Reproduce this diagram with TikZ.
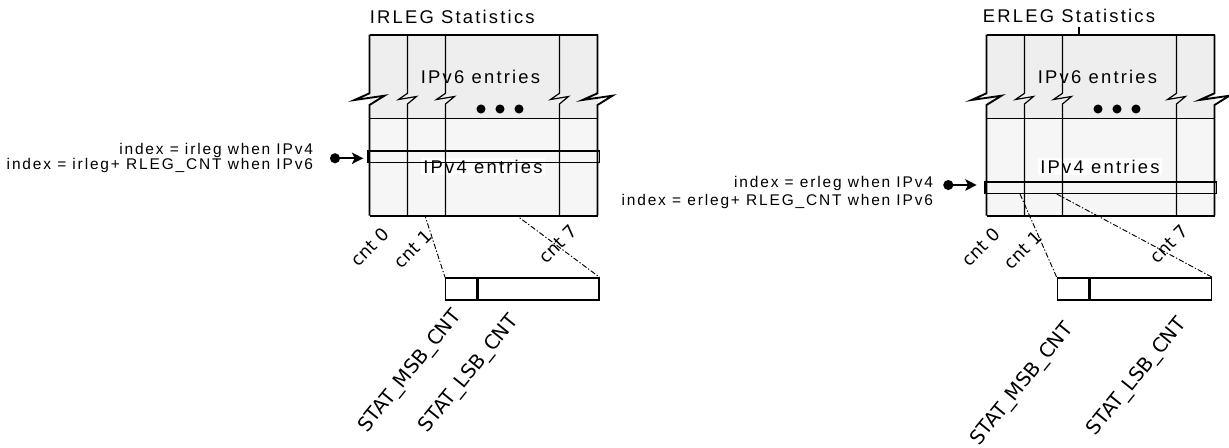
\documentclass[tikz,border=0pt]{standalone}
\usepackage{fontspec}
\setmainfont{Liberation Sans}[LetterSpace=12]
\newfontfamily\rotfont{DejaVu Sans}
\usetikzlibrary{arrows.meta,backgrounds}
\definecolor{upgray}{HTML}{EEEEEE}
\definecolor{lowgray}{HTML}{F6F6F6}

\begin{document}
\begin{tikzpicture}[x=0.75pt, y=-0.75pt,
    frame/.style={draw, line width=1.4pt},
    col/.style={draw, line width=0.9pt},
    rowbox/.style={draw, line width=1.1pt},
    lbl/.style={font=\fontsize{13.8}{15}\selectfont, inner sep=1.5pt},
    idx/.style={font=\fontsize{11.6}{9.3}\selectfont, align=right, inner sep=0pt, anchor=east},
    cnt/.style={font=\rotfont\fontsize{13.3}{15}\selectfont, rotate=45, anchor=east, inner sep=0pt},
    fld/.style={font=\rotfont\fontsize{14.8}{17}\selectfont, rotate=51, anchor=east, inner sep=0pt},
    cell/.style={draw, line width=1.1pt, minimum height=16.5pt, inner sep=0pt, anchor=north west},
    cnline/.style={line width=0.7pt, dash pattern=on 4pt off 1.5pt on 1pt off 1.5pt},
    ptr/.style={line width=1.3pt, {Circle[length=7.5pt]}-{Stealth[length=8.5pt, width=8.5pt, inset=2pt]}}
  ]
  \useasboundingbox (0,0) rectangle (1229,448);

  \foreach \bx/\nm/\ry in {369.5/L/151, 986.5/R/182} {
    \fill[upgray] (\bx,34.7) rectangle ({\bx+228},118.3);
    \fill[lowgray] (\bx,118.3) rectangle ({\bx+228},215.7);
    \node[lbl] (\nm-v6) at ({\bx+111},76.7) {IPv6 entries};
    \node[lbl, fill=white] (\nm-v4) at ({\bx+113.5},166.7) {IPv4 entries};
    \foreach \c in {38, 76, 190}
      \draw[col] ({\bx+\c},34.7) -- ({\bx+\c},93.3) -- ({\bx+\c-9},99.5)
        -- ({\bx+\c+9},96.5) -- ({\bx+\c},104) -- ({\bx+\c},215.7);
    \foreach \c in {0, 228}
      \draw[frame] ({\bx+\c},34.7) -- ({\bx+\c},93.3) -- ({\bx+\c-15},100)
        -- ({\bx+\c+15},95.7) -- ({\bx+\c},105) -- ({\bx+\c},215.7);
    \draw[frame] (\bx,34.7) -- ({\bx+228},34.7);
    \draw[frame] (\bx,215.7) -- ({\bx+228},215.7);
    \draw[col] (\bx,118.3) -- ({\bx+228},118.3);
    \draw[rowbox] ({\bx-1.5},\ry) rectangle ({\bx+230},{\ry+11.5});
    \foreach \d in {111.5, 130.5, 149.5}
      \fill ({\bx+\d},109) circle[radius=3.4pt];
  }

  \node[lbl, anchor=west, inner sep=0pt] (ltitle) at (369.5,16.7) {IRLEG Statistics};
  \node[lbl, anchor=west, inner sep=0pt] (rtitle) at (982.7,16) {ERLEG Statistics};
  \draw[col] (1079,27.5) -- (1079,34.7);

  \node[idx] (lidx) at (313.3,157.9) {index = irleg when IPv4\\index = irleg+ RLEG\_CNT when IPv6};
  \node[idx, font=\fontsize{11.6}{13.7}\selectfont] (ridx) at (933.3,192.5) {index = erleg when IPv4\\index = erleg+ RLEG\_CNT when IPv6};
  \coordinate (ldot) at (330,158.3);
  \coordinate (rdot) at (943.3,185);
  \draw[ptr] (ldot) -- (363.3,158.3);
  \draw[ptr] (rdot) -- (976.7,185);

  \node[cnt] (lc0) at (386,231) {cnt 0};
  \node[cnt] (lc1) at (429,233) {cnt 1};
  \node[cnt] (lc7) at (574,228) {cnt 7};
  \node[cnt] (rc0) at (997,231) {cnt 0};
  \node[cnt] (rc1) at (1039,234) {cnt 1};
  \node[cnt] (rc7) at (1185,228) {cnt 7};

  \node[cell, minimum width=23pt] (lmsb) at (445,277.3) {};
  \node[cell, minimum width=90.75pt] (llsb) at (lmsb.north east) {};
  \node[cell, minimum width=23.25pt] (rmsb) at (1056.7,277.3) {};
  \node[cell, minimum width=91.2pt] (rlsb) at (rmsb.north east) {};

  \node[fld] (lmsbl) at (458,313) {STAT\_MSB\_CNT};
  \node[fld] (llsbl) at (515,318) {STAT\_LSB\_CNT};
  \node[fld] (rmsbl) at (1070,326) {STAT\_MSB\_CNT};
  \node[fld] (rlsbl) at (1183,321) {STAT\_LSB\_CNT};

  \coordinate (lc1a) at (407.7,162.5);
  \coordinate (lc1b) at (445.3,162.5);
  \coordinate (rc1a) at (1020,194);
  \coordinate (rc1b) at (1056.7,194);
  \begin{pgfonlayer}{background}
    \draw[cnline] (lc1a) -- (lmsb.north west);
    \draw[cnline] (lc1b) -- (llsb.north east);
  \end{pgfonlayer}
  \draw[cnline] (rc1a) -- (rmsb.north west);
  \draw[cnline] (rc1b) -- (rlsb.north east);
\end{tikzpicture}
\end{document}
